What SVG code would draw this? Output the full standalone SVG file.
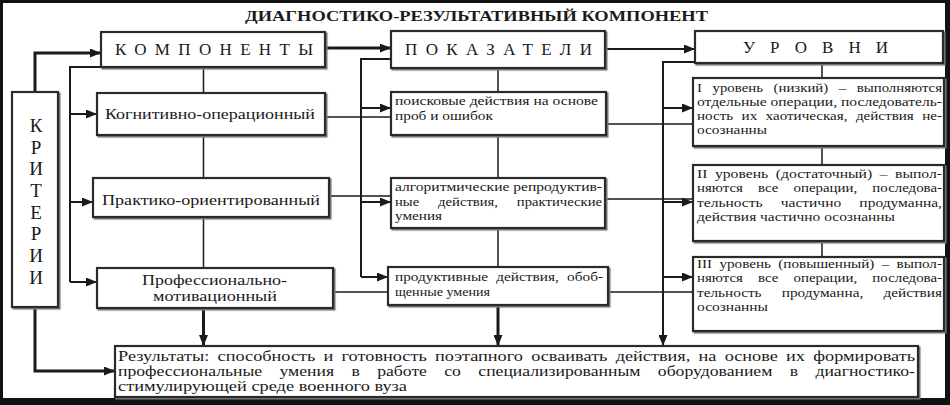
<svg xmlns="http://www.w3.org/2000/svg" width="950" height="405" viewBox="0 0 950 405">
<style>
text{font-family:"Liberation Serif","Times New Roman",serif;fill:#1a1a1a}
.box{fill:#fff;stroke:#2a2a2a;stroke-width:2.2;filter:url(#sh)}
.hd{font-size:17px}
.lb{font-size:15px}
.sm{font-size:13.5px}
.lv{font-size:13px}
.c{fill:none;stroke:#1a1a1a}
.k{stroke-width:3}
.m{stroke-width:2}
.t{stroke-width:1.5}
</style>
<defs>
<filter id="sh" x="-5%" y="-10%" width="115%" height="130%">
<feDropShadow dx="1.5" dy="1.5" stdDeviation="0.7" flood-color="#777"/>
</filter>
<marker id="ah" markerWidth="11" markerHeight="9" refX="10" refY="4.5" orient="auto" markerUnits="userSpaceOnUse">
<path d="M0,0 L11,4.5 L0,9 z" fill="#1a1a1a"/>
</marker>
</defs>
<rect x="0" y="0" width="950" height="405" fill="#111"/>
<rect x="3" y="3" width="942" height="395" fill="#fff"/>
<text x="245" y="21" font-size="14" font-weight="bold" textLength="463" lengthAdjust="spacingAndGlyphs">ДИАГНОСТИКО-РЕЗУЛЬТАТИВНЫЙ КОМПОНЕНТ</text>

<g id="connectors">
<path class="c k" d="M35,92 V53 H100" marker-end="url(#ah)"/>
<path class="c k" d="M35,307 V371 H114" marker-end="url(#ah)"/>
<path class="c k" d="M325,48 H390" marker-end="url(#ah)"/>
<path class="c k" d="M203.5,308 V345" marker-end="url(#ah)"/>
<path class="c k" d="M498,305 V345" marker-end="url(#ah)"/>
<path class="c m" d="M100,67 H70 V282"/>
<path class="c m" d="M70,114 H96" marker-end="url(#ah)"/>
<path class="c m" d="M70,202 H92" marker-end="url(#ah)"/>
<path class="c m" d="M70,282 H96" marker-end="url(#ah)"/>
<path class="c m" d="M391,59 H361 V277"/>
<path class="c m" d="M361,108 H390" marker-end="url(#ah)"/>
<path class="c m" d="M361,202 H390" marker-end="url(#ah)"/>
<path class="c m" d="M361,277 H387" marker-end="url(#ah)"/>
<path class="c m" d="M605,49 H694" marker-end="url(#ah)"/>
<path class="c m" d="M695,62 H663 V345" marker-end="url(#ah)"/>
<path class="c m" d="M663,108 H692" marker-end="url(#ah)"/>
<path class="c m" d="M663,202 H692" marker-end="url(#ah)"/>
<path class="c m" d="M663,277 H692" marker-end="url(#ah)"/>
<path class="c t" d="M203.5,67 V93 M203.5,135 V178 M203.5,217 V268"/>
<path class="c t" d="M498,68 V92 M498,135 V178 M498,228 V267"/>
<path class="c t" d="M822,63 V78 M822,146 V165 M822,241 V257"/>
<path class="c t" d="M325,117 H391 M329,196 H391 M333,292 H388"/>
<path class="c t" d="M606,124 H693 M605,199 H693 M608,292 H693"/>
</g>

<g id="kriterii">
<rect class="box" x="12" y="92" width="46" height="215"/>
<g font-size="19" text-anchor="middle">
<text x="36" y="132">К</text>
<text x="36" y="154">Р</text>
<text x="36" y="175">И</text>
<text x="36" y="197">Т</text>
<text x="36" y="219">Е</text>
<text x="36" y="240">Р</text>
<text x="36" y="262">И</text>
<text x="36" y="284">И</text>
</g>
</g>

<g id="komponenty">
<rect class="box" x="101" y="32" width="224" height="35"/>
<text class="hd" x="115" y="55" textLength="198" lengthAdjust="spacing">КОМПОНЕНТЫ</text>
</g>
<g id="pokazateli">
<rect class="box" x="391" y="31" width="214" height="37"/>
<text class="hd" x="405" y="55" textLength="187" lengthAdjust="spacing">ПОКАЗАТЕЛИ</text>
</g>
<g id="urovni">
<rect class="box" x="695" y="31" width="248" height="32"/>
<text class="hd" x="743" y="53" textLength="145" lengthAdjust="spacing">УРОВНИ</text>
</g>

<g id="kognitivno">
<rect class="box" x="97" y="93" width="228" height="42"/>
<text class="lb" x="105" y="119" textLength="210" lengthAdjust="spacingAndGlyphs">Когнитивно-операционный</text>
</g>
<g id="praktiko">
<rect class="box" x="93" y="178" width="236" height="39"/>
<text class="lb" x="102" y="205" textLength="218" lengthAdjust="spacingAndGlyphs">Практико-ориентированный</text>
</g>
<g id="professionalno">
<rect class="box" x="97" y="268" width="236" height="40"/>
<text class="lb" x="142" y="285" textLength="145" lengthAdjust="spacingAndGlyphs">Профессионально-</text>
<text class="lb" x="153" y="301" textLength="124" lengthAdjust="spacingAndGlyphs">мотивационный</text>
</g>

<g id="poiskovye">
<rect class="box" x="391" y="92" width="215" height="43"/>
<text class="sm" x="395" y="105" textLength="203" lengthAdjust="spacingAndGlyphs">поисковые действия на основе</text>
<text class="sm" x="395" y="120" textLength="98" lengthAdjust="spacingAndGlyphs">проб и ошибок</text>
</g>
<g id="algoritm">
<rect class="box" x="391" y="178" width="214" height="50"/>
<text class="sm" x="395" y="191" textLength="207" lengthAdjust="spacingAndGlyphs">алгоритмические репродуктив-</text>
<text class="sm" x="395" y="206" textLength="207" lengthAdjust="spacingAndGlyphs" word-spacing="14">ные действия, практические</text>
<text class="sm" x="395" y="220" textLength="47" lengthAdjust="spacingAndGlyphs">умения</text>
</g>
<g id="produktivnye">
<rect class="box" x="388" y="267" width="220" height="38"/>
<text class="sm" x="395" y="281" textLength="208" lengthAdjust="spacingAndGlyphs" word-spacing="4">продуктивные действия, обоб-</text>
<text class="sm" x="395" y="296" textLength="95" lengthAdjust="spacingAndGlyphs">щенные умения</text>
</g>

<g id="level1">
<rect class="box" x="693" y="78" width="251" height="68"/>
<text class="lv" x="697" y="92" textLength="245" lengthAdjust="spacingAndGlyphs" word-spacing="6">I уровень (низкий) – выполняются</text>
<text class="lv" x="697" y="106" textLength="245" lengthAdjust="spacingAndGlyphs">отдельные операции, последователь-</text>
<text class="lv" x="697" y="120" textLength="245" lengthAdjust="spacingAndGlyphs" word-spacing="4">ность их хаотическая, действия не-</text>
<text class="lv" x="697" y="134" textLength="70" lengthAdjust="spacingAndGlyphs">осознанны</text>
</g>
<g id="level2">
<rect class="box" x="693" y="165" width="251" height="76"/>
<text class="lv" x="697" y="178" textLength="245" lengthAdjust="spacingAndGlyphs" word-spacing="3">II уровень (достаточный) – выпол-</text>
<text class="lv" x="697" y="192" textLength="245" lengthAdjust="spacingAndGlyphs" word-spacing="10">няются все операции, последова-</text>
<text class="lv" x="697" y="207" textLength="245" lengthAdjust="spacingAndGlyphs" word-spacing="12">тельность частично продуманна,</text>
<text class="lv" x="697" y="221" textLength="198" lengthAdjust="spacingAndGlyphs">действия частично осознанны</text>
</g>
<g id="level3">
<rect class="box" x="693" y="257" width="251" height="74"/>
<text class="lv" x="697" y="268" textLength="245" lengthAdjust="spacingAndGlyphs" word-spacing="3">III уровень (повышенный) – выпол-</text>
<text class="lv" x="697" y="282" textLength="245" lengthAdjust="spacingAndGlyphs" word-spacing="10">няются все операции, последова-</text>
<text class="lv" x="697" y="297" textLength="245" lengthAdjust="spacingAndGlyphs" word-spacing="14">тельность продуманна, действия</text>
<text class="lv" x="697" y="311" textLength="71" lengthAdjust="spacingAndGlyphs">осознанны</text>
</g>

<g id="rezultaty">
<rect class="box" x="115" y="346" width="803" height="51"/>
<text class="lb" x="118" y="361" textLength="797" lengthAdjust="spacingAndGlyphs" word-spacing="3">Результаты: способность и готовность поэтапного осваивать действия, на основе их формировать</text>
<text class="lb" x="118" y="376" textLength="797" lengthAdjust="spacingAndGlyphs" word-spacing="11">профессиональные умения в работе со специализированным оборудованием в диагностико-</text>
<text class="lb" x="118" y="391" textLength="289" lengthAdjust="spacingAndGlyphs">стимулирующей среде военного вуза</text>
</g>
</svg>
